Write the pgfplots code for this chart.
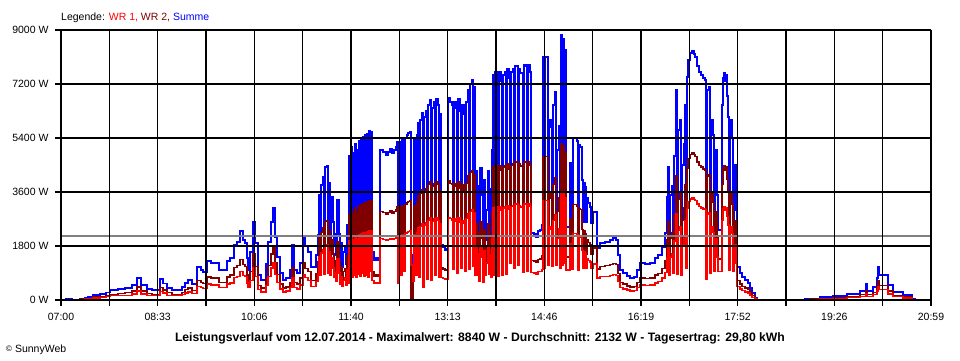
\documentclass[border=0pt]{standalone}
\usepackage{fontspec}
\setmainfont{Liberation Sans}
\usepackage{pgfplots}
\usepackage{pgfplotstable}
\pgfplotsset{compat=1.18}
\definecolor{wrone}{RGB}{255,0,0}
\definecolor{wrtwo}{RGB}{128,0,0}
\definecolor{summe}{RGB}{0,0,255}
\definecolor{avgline}{RGB}{128,128,128}

% t = minutes after 07:00, S = Summe, W2 = WR 2, W1 = WR 1 (W)
\pgfplotstableread{
t S W2 W1
0.0 0 0 0
1.9 0 0 0
4.8 40 20 20
10.6 0 0 0
18.3 60 40 20
23.1 80 50 30
26.0 100 60 40
30.9 170 100 70
37.6 200 120 80
43.4 260 150 110
47.3 330 190 140
55.0 370 220 150
61.7 400 240 160
68.4 500 300 200
73.3 730 430 300
77.2 500 300 200
83.0 370 220 150
87.7 330 190 140
92.6 330 190 140
95.5 700 410 290
98.4 560 330 230
102.3 400 240 160
107.0 330 190 140
111.9 330 190 140
116.7 430 250 180
119.6 570 340 230
122.5 670 400 270
126.3 530 310 220
131.2 1100 650 450
135.1 1000 590 410
137.0 930 550 380
140.9 1300 770 530
144.7 1230 730 500
148.5 1230 730 500
152.4 1000 590 410
156.2 1000 590 410
160.1 1300 770 530
163.0 1400 830 570
166.9 1830 1080 750
169.8 1930 1140 790
172.6 2300 1360 940
175.5 2000 1180 820
177.4 1900 1120 780
179.4 1400 830 570
180.3 1000 590 410
182.3 1600 940 660
185.2 2600 1530 1070
187.1 1900 1120 780
190.0 830 490 340
192.9 670 400 270
194.8 670 400 270
197.7 1200 710 490
199.6 1930 1140 790
202.6 2600 1530 1070
204.5 3070 1810 1260
206.4 2100 1240 860
208.4 1430 840 590
211.2 900 530 370
214.1 670 400 270
217.0 730 430 300
220.8 1000 590 410
222.7 1830 1080 750
224.7 1000 590 410
227.6 900 530 370
230.5 1230 730 500
233.4 2100 1240 860
235.3 1800 1060 740
238.2 1600 940 660
241.1 1100 650 450
243.0 1100 650 450
245.9 1500 890 610
247.8 2170 1280 890
248.8 3500 2070 1430
249.8 2000 1180 820
250.8 3830 2260 1570
252.7 4100 2420 1680
253.7 2100 1240 860
254.6 4430 2610 1820
256.5 4470 2640 1830
257.5 2200 1300 900
258.5 3900 2300 1600
259.4 2000 1180 820
260.4 3430 2020 1410
262.3 2600 1530 1070
263.3 1800 1060 740
264.2 2200 1300 900
265.2 1500 890 610
266.2 3330 1960 1370
268.1 2200 1300 900
269.1 1300 770 530
270.0 1900 1120 780
271.0 1100 650 450
272.0 1600 940 660
273.9 1800 1060 740
274.9 1200 710 490
275.8 2500 1480 1020
276.8 1400 830 570
277.7 4800 2830 1970
278.7 1900 1120 780
279.7 5100 3010 2090
280.6 1830 1080 750
281.6 4900 2890 2010
282.6 2000 1180 820
283.5 5200 3070 2130
284.5 1800 1060 740
285.5 5000 2950 2050
286.4 2100 1240 860
287.4 5300 3130 2170
288.4 1900 1120 780
289.3 5400 3190 2210
290.3 2200 1300 900
291.3 5450 3220 2230
292.2 1900 1120 780
293.2 5500 3250 2250
294.2 2000 1180 820
295.1 5550 3270 2280
296.1 1830 1080 750
297.1 5630 3320 2310
298.0 2300 1360 940
299.0 5600 3300 2300
299.9 1600 940 660
301.9 1330 780 550
303.8 1400 830 570
305.7 1330 780 550
307.6 5000 2950 2050
310.5 4930 2910 2020
313.4 4830 2850 1980
315.3 4930 2910 2020
317.3 5030 2970 2060
319.2 4900 2890 2010
321.2 5000 2950 2050
323.1 5100 3010 2090
324.1 5270 3110 2160
325.0 1330 780 550
326.0 5270 3110 2160
327.9 2000 1180 820
328.8 5330 3140 2190
330.8 2300 1360 940
331.7 5400 3190 2210
333.6 5500 3250 2250
334.6 5570 3290 2280
336.6 5600 3300 2300
337.5 1170 0 1170
339.5 1500 890 610
340.4 5330 3140 2190
342.4 2000 1180 820
343.3 5500 3250 2250
344.3 5900 3480 2420
345.2 1800 1060 740
346.2 6000 3540 2460
348.1 6230 3680 2550
349.1 1000 590 410
350.1 6100 3600 2500
352.0 6300 3720 2580
352.9 1700 1000 700
353.9 6500 3840 2660
355.9 6670 3940 2730
356.8 1600 940 660
357.8 6400 3780 2620
359.7 6600 3890 2710
360.7 2000 1180 820
361.6 6700 3950 2750
363.6 6500 3840 2660
364.5 1800 1060 740
365.5 6200 3660 2540
366.5 1830 1080 750
368.4 1750 1030 720
370.3 1670 990 680
372.3 1700 1000 700
373.2 6730 3970 2760
375.2 6600 3890 2710
377.1 6500 3840 2660
378.1 2500 1480 1020
379.0 6600 3890 2710
381.0 6400 3780 2620
381.9 2200 1300 900
382.9 6700 3950 2750
384.8 6300 3720 2580
385.8 2600 1530 1070
386.7 6500 3840 2660
388.7 6200 3660 2540
389.6 2300 1360 940
390.6 6600 3890 2710
392.5 7000 4130 2870
393.5 2500 1480 1020
394.4 7200 4250 2950
396.4 7330 4320 3010
397.3 2700 1590 1110
398.3 7100 4190 2910
399.3 2000 1180 820
400.2 4300 2540 1760
401.2 2000 1180 820
402.1 3800 2240 1560
403.1 1500 890 610
404.1 4400 2600 1800
406.0 3500 2070 1430
407.0 1430 840 590
407.9 4000 2360 1640
408.9 2000 1180 820
409.9 3000 1770 1230
411.8 4300 2540 1760
412.8 2100 1240 860
413.7 3700 2180 1520
414.7 1800 1060 740
415.6 5000 2950 2050
416.6 7500 4430 3070
417.6 2000 1180 820
418.5 7600 4480 3120
420.5 7400 4370 3030
421.4 1900 1120 780
422.4 7600 4480 3120
424.3 7300 4310 2990
425.3 2000 1180 820
426.3 7500 4430 3070
428.2 7600 4480 3120
429.2 2100 1240 860
430.1 7700 4540 3160
432.0 7400 4370 3030
433.0 3000 1770 1230
434.0 7600 4480 3120
435.9 7700 4540 3160
436.9 2600 1530 1070
437.8 7800 4600 3200
439.8 7800 4600 3200
440.7 2800 1650 1150
441.7 7700 4540 3160
442.7 7570 4470 3100
444.6 7570 4470 3100
445.6 2230 1320 910
446.5 7830 4620 3210
448.5 7800 4600 3200
449.4 2300 1360 940
450.4 7830 4620 3210
452.3 7600 4480 3120
453.3 2230 1320 910
456.2 2200 1300 900
458.1 2100 1240 860
460.0 2300 1360 940
461.9 2330 1370 960
463.9 2500 1480 1020
464.8 8100 4780 3320
465.8 2600 1530 1070
466.8 8100 4780 3320
468.7 8100 4780 3320
469.6 2800 1650 1150
470.6 6000 3540 2460
472.5 5770 3400 2370
473.5 2700 1590 1110
474.5 6500 3840 2660
476.4 6930 4090 2840
477.4 2800 1650 1150
478.3 5000 2950 2050
480.2 5800 3420 2380
481.2 2600 1530 1070
482.2 8830 5210 3620
483.1 2800 1650 1150
484.1 8700 5130 3570
485.1 3000 1770 1230
486.0 8330 4910 3420
487.0 2430 1430 1000
488.9 2430 1430 1000
490.9 4570 2700 1870
491.8 2500 1480 1020
493.8 5400 3190 2210
495.7 5400 3190 2210
497.6 5300 3130 2170
498.6 2430 1430 1000
499.5 5170 3050 2120
500.5 5100 3010 2090
502.4 4000 2360 1640
503.4 2600 1530 1070
504.4 3900 2300 1600
505.3 3770 2220 1550
506.3 2600 1530 1070
507.3 3400 2010 1390
508.2 3230 1910 1320
510.2 3100 1830 1270
511.1 2570 1520 1050
513.1 2930 1730 1200
515.0 2930 1730 1200
516.9 1770 1040 730
517.9 1730 1020 710
519.8 1900 1120 780
524.6 1930 1140 790
529.5 2000 1180 820
532.4 2070 1220 850
535.2 2000 1180 820
537.2 1500 890 610
539.1 1000 590 410
542.0 900 530 370
545.8 800 470 330
548.7 730 430 300
552.6 770 450 320
555.5 1000 590 410
558.4 1230 730 500
563.2 1200 710 490
568.0 1230 730 500
572.8 1400 830 570
575.7 1500 890 610
579.6 1770 1040 730
582.5 2230 1320 910
584.4 3430 2020 1410
585.4 4430 2610 1820
586.3 2000 1180 820
587.3 3500 2070 1430
589.2 3800 2240 1560
590.2 2200 1300 900
591.2 4800 2830 1970
593.1 7000 4130 2870
594.1 2100 1240 860
595.0 5670 3350 2320
597.0 6000 3540 2460
597.9 2000 1180 820
598.9 4500 2660 1840
600.8 5200 3070 2130
601.8 6500 3840 2660
602.7 2600 1530 1070
603.7 7430 4380 3050
604.7 8000 4720 3280
606.6 8230 4860 3370
608.5 8300 4900 3400
610.5 8200 4840 3360
611.4 8100 4780 3320
613.4 7800 4600 3200
615.3 7600 4480 3120
617.2 7500 4430 3070
619.2 7400 4370 3030
621.1 7330 4320 3010
622.1 1670 990 680
623.0 7000 4130 2870
625.0 7100 4190 2910
625.9 2200 1300 900
626.9 6000 3540 2460
628.8 5500 3250 2250
629.8 2300 1360 940
630.7 5000 2950 2050
632.7 3500 2070 1430
633.6 2330 1370 960
635.5 2330 1370 960
637.5 6500 3840 2660
638.4 7400 4370 3030
639.4 7570 4470 3100
640.4 7300 4310 2990
641.3 7500 4430 3070
642.3 6800 4010 2790
643.2 6100 3600 2500
644.2 2400 1420 980
645.2 6000 3540 2460
647.1 5400 3190 2210
648.1 2300 1360 940
649.0 4500 2660 1840
651.0 3000 1770 1230
651.9 1100 650 450
654.8 900 530 370
656.8 770 450 320
659.7 670 400 270
662.6 570 340 230
664.5 400 240 160
666.4 230 140 90
669.3 80 50 30
671.2 0 0 0
690.0 nan nan nan
714.0 0 0 0
717.5 30 20 10
722.3 60 40 20
732.0 100 60 40
744.5 130 80 50
758.1 200 120 80
770.6 300 180 120
776.4 530 310 220
777.4 300 180 120
783.1 430 250 180
787.0 730 430 300
788.0 1100 650 450
789.0 830 490 340
792.8 830 490 340
797.6 500 300 200
802.4 270 160 110
812.0 170 100 70
820.7 30 20 10
823.6 0 0 0
}\data

\begin{document}
\begin{tikzpicture}
\path[use as bounding box, fill=white] (0pt,0pt) rectangle (960pt,360pt);
\begin{axis}[
  at={(61pt,60pt)}, anchor=south west,
  scale only axis, width=870pt, height=270pt,
  xmin=0, xmax=839, ymin=0, ymax=9000,
  axis on top,
  axis line style={black, line width=1pt},
  xtick={0,46.61,93.22,139.83,186.44,233.06,279.67,326.28,372.89,419.5,466.11,512.72,559.33,605.94,652.56,699.17,745.78,792.39,839},
  xticklabels={07:00,,08:33,,10:06,,11:40,,13:13,,14:46,,16:19,,17:52,,19:26,,20:59},
  ytick={0,1800,3600,5400,7200,9000},
  yticklabels={0 W,1800 W,3600 W,5400 W,7200 W,9000 W},
  grid=major, major grid style={black, line width=1.1pt},
  tick align=outside, major tick length=6pt,
  tick style={black, line width=1.1pt},
  xtick pos=left, ytick pos=left,
  ticklabel style={font=\fontsize{10.5}{12}\selectfont, text=black},
  xticklabel style={yshift=-4pt},
  yticklabel style={xshift=-3pt},
  unbounded coords=jump,
]
\addplot[summe, line width=1.25pt, const plot, no markers] table[x=t, y=S]{\data};
\addplot[wrtwo, line width=1.25pt, const plot, no markers] table[x=t, y=W2]{\data};
\addplot[wrone, line width=1.25pt, const plot, no markers] table[x=t, y=W1]{\data};
\addplot[avgline, line width=1.4pt, no markers] coordinates {(0,2132) (839,2132)};
\end{axis}
\node[anchor=base west, inner sep=0pt, font=\fontsize{10.5}{12}\selectfont] at (61pt,340pt)
  {Legende: \textcolor{wrone}{WR 1,} \textcolor{wrtwo}{WR 2,} \textcolor{summe}{Summe}};
\node[anchor=base, inner sep=0pt, font=\fontsize{12.2}{14}\selectfont\bfseries] at (480pt,19pt)
  {Leistungsverlauf vom 12.07.2014 - Maximalwert: 8840 W - Durchschnitt: 2132 W - Tagesertrag: 29,80 kWh};
\node[anchor=base west, inner sep=0pt, font=\fontsize{10.5}{12}\selectfont] at (6pt,8pt)
  {{\fontsize{8}{9}\selectfont\raisebox{1pt}{©}} SunnyWeb};
\end{tikzpicture}
\end{document}
